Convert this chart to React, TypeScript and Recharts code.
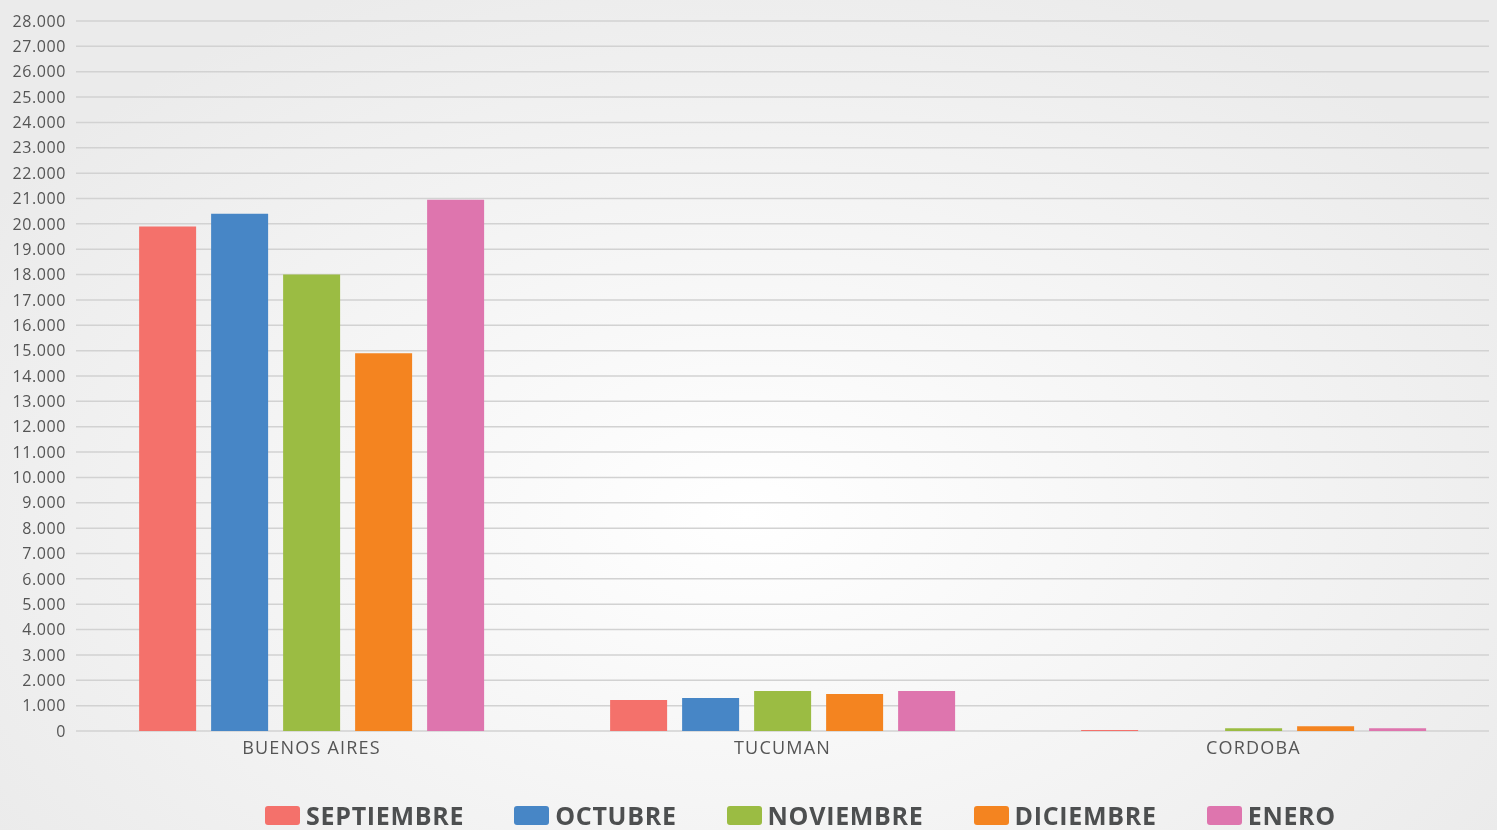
import React from "react";
import { BarChart, Bar, XAxis, YAxis, CartesianGrid } from "recharts";

const provinces = ["BUENOS AIRES", "TUCUMAN", "CORDOBA"];
const septiembre = [19900, 1220, 40];
const octubre = [20400, 1300, 0];
const noviembre = [18000, 1580, 110];
const diciembre = [14900, 1460, 190];
const enero = [20950, 1580, 110];

const yTicks = Array.from({ length: 29 }, (_, i) => i * 1000);

const series = [
  { key: "septiembre", label: "SEPTIEMBRE", color: "#F4716B", values: septiembre },
  { key: "octubre", label: "OCTUBRE", color: "#4786C6", values: octubre },
  { key: "noviembre", label: "NOVIEMBRE", color: "#9BBC43", values: noviembre },
  { key: "diciembre", label: "DICIEMBRE", color: "#F48420", values: diciembre },
  { key: "enero", label: "ENERO", color: "#DE75AE", values: enero },
];

const data = provinces.map((name, i) => {
  const row: any = { name };
  series.forEach((s) => (row[s.key] = s.values[i]));
  return row;
});

const fmt = (v: number) => v.toLocaleString("de-DE");
const font = "'Open Sans', 'Noto Sans', sans-serif";

export default function App() {
  return (
    <div
      style={{
        position: "fixed",
        left: 0,
        top: 0,
        width: 1497,
        height: 830,
        background:
          "radial-gradient(ellipse 60% 70% at 50% 62%, #ffffff 0%, #f6f6f6 45%, #ebebeb 100%)",
        fontFamily: font,
      }}
    >
      <BarChart
        width={1497}
        height={770}
        data={data}
        margin={{ top: 21, right: 8, left: 0, bottom: 9 }}
        barCategoryGap="13.4%"
        barGap={15}
      >
        <CartesianGrid vertical={false} stroke="#d2d2d2" strokeWidth={1.5} />
        <XAxis
          dataKey="name"
          height={30}
          tickLine={false}
          axisLine={false}
          tick={{ fill: "#555", fontSize: 18, fontFamily: font, letterSpacing: 1.2 }}
          tickMargin={4}
        />
        <YAxis
          width={76}
          domain={[0, 28000]}
          ticks={yTicks}
          interval={0}
          tickFormatter={fmt}
          tickLine={false}
          axisLine={false}
          tick={{ fill: "#555", fontSize: 16, fontFamily: font, letterSpacing: 0.6 }}
          tickMargin={4}
        />
        {series.map((s) => (
          <Bar key={s.key} dataKey={s.key} fill={s.color} isAnimationActive={false} />
        ))}
      </BarChart>
      <div
        style={{
          position: "absolute",
          left: 0,
          top: 800,
          width: 1497,
          boxSizing: "border-box",
          display: "flex",
          justifyContent: "center",
          gap: 50,
          paddingLeft: 104,
        }}
      >
        {series.map((s) => (
          <div key={s.key} style={{ display: "flex", alignItems: "center", gap: 6 }}>
            <span
              style={{
                display: "inline-block",
                width: 35,
                height: 19,
                borderRadius: 3,
                background: s.color,
              }}
            />
            <span
              style={{
                fontWeight: 700,
                fontSize: 25,
                letterSpacing: 0.7,
                color: "#4d4f50",
                lineHeight: "30px",
              }}
            >
              {s.label}
            </span>
          </div>
        ))}
      </div>
    </div>
  );
}
